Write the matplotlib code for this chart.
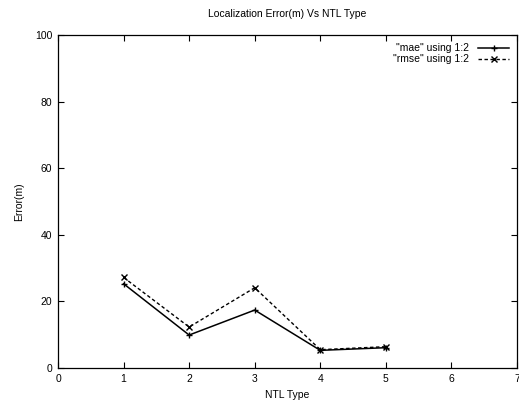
import matplotlib
matplotlib.use("Agg")
import matplotlib.pyplot as plt

ntl_type = [1, 2, 3, 4, 5]
mae = [25.3, 9.9, 17.4, 5.3, 6.1]
rmse = [27.2, 12.3, 24.1, 5.5, 6.4]
x_ticks = [0, 1, 2, 3, 4, 5, 6, 7]
y_ticks = [0, 20, 40, 60, 80, 100]

plt.rcParams['font.family'] = ['Liberation Sans', 'DejaVu Sans']
fig = plt.figure(figsize=(5.19, 4.01), dpi=100)
ax = fig.add_axes([58/519, 33/401, 459/519, 333/401])

ax.plot(ntl_type, mae, color='black', lw=1.1, marker='+', ms=5, mew=1.0,
        label='"mae" using 1:2')
ax.plot(ntl_type, rmse, color='black', lw=1.0, ls=(0, (2.5, 1.8)), marker='x', ms=4.5, mew=1.0,
        label='"rmse" using 1:2')

ax.set_xlim(0, 7)
ax.set_ylim(0, 100)
ax.set_xticks(x_ticks)
ax.set_yticks(y_ticks)
ax.tick_params(direction='in', top=True, right=True, length=4, width=0.8,
               labelsize=7.5, pad=4)
for s in ax.spines.values():
    s.set_linewidth(0.9)

ax.set_title('Localization Error(m) Vs NTL Type', fontsize=7.5, pad=13)
ax.set_xlabel('NTL Type', fontsize=7.5, labelpad=5)
ax.set_ylabel('Error(m)', fontsize=7.5, labelpad=8)

leg = ax.legend(loc='upper right', frameon=False, fontsize=7.5, markerfirst=False,
                handlelength=2.9, handletextpad=0.9, borderaxespad=0.3, labelspacing=0.1,
                borderpad=0.5)
for t in leg.get_texts():
    t.set_ha('right')

fig.savefig('out.png', dpi=100)
